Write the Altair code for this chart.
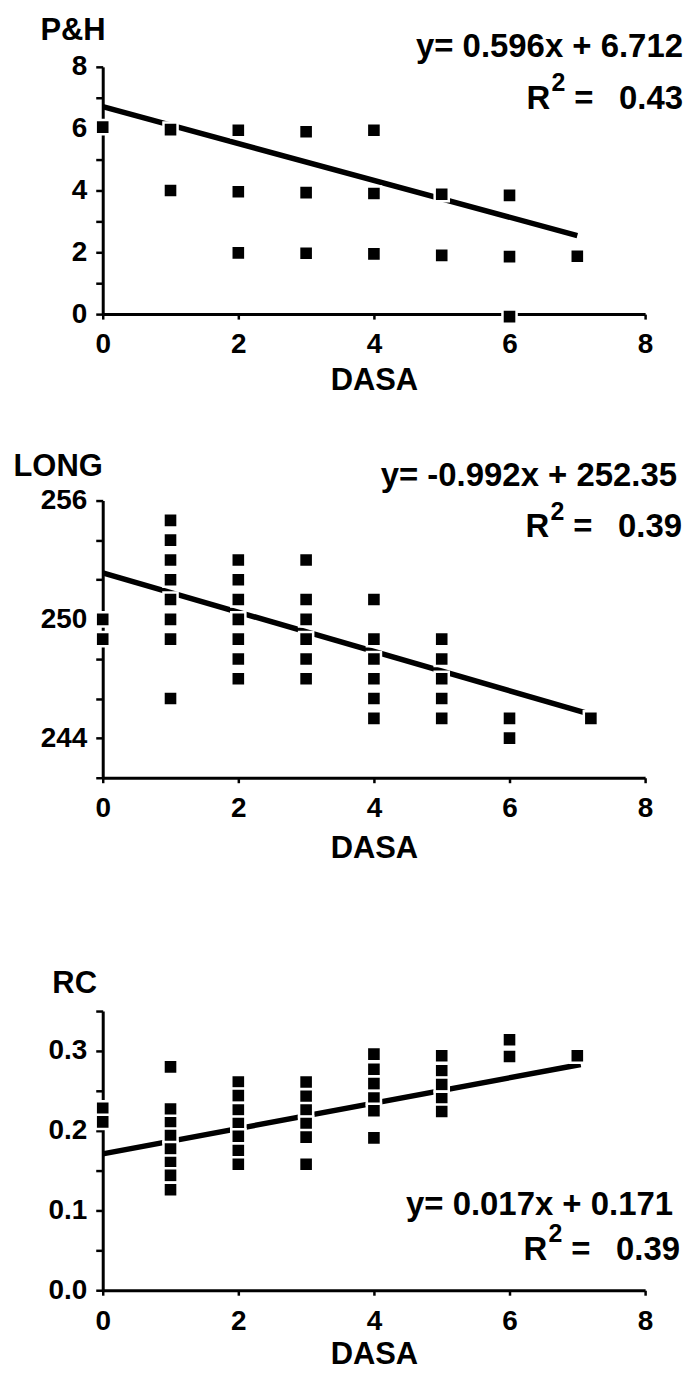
import altair as alt
import pandas as pd

FONT = "Liberation Sans"

# ---------------- data ----------------
x_ticks = [0, 2, 4, 6, 8]

# Panel 1: P&H
ph_x = [0, 1, 2, 3, 4, 1, 2, 3, 4, 5, 6, 2, 3, 4, 5, 6, 7, 6]
ph_y = [6.05, 5.97, 5.95, 5.9, 5.95, 4.0, 3.96, 3.93, 3.9, 3.88, 3.84,
        1.98, 1.97, 1.95, 1.9, 1.86, 1.87, -0.08]
ph_fit_x = [0, 7]
ph_fit_y = [6.71, 2.54]
ph_ticks = [0, 1, 2, 3, 4, 5, 6, 7, 8]
ph_labels = [0, 2, 4, 6, 8]
ph_eq = "y= 0.596x + 6.712"
ph_r2 = "0.43"

# Panel 2: LONG
long_x = [0, 0,
          1, 1, 1, 1, 1, 1, 1, 1,
          2, 2, 2, 2, 2, 2, 2,
          3, 3, 3, 3, 3, 3,
          4, 4, 4, 4, 4, 4,
          5, 5, 5, 5, 5,
          6, 6,
          7.2]
long_y = [250, 249,
          255, 254, 253, 252, 251, 250, 249, 246,
          253, 252, 251, 250, 249, 248, 247,
          253, 251, 250, 249, 248, 247,
          251, 249, 248, 247, 246, 245,
          249, 248, 247, 246, 245,
          245, 244,
          245]
long_fit_x = [0, 7.2]
long_fit_y = [252.35, 245.2]
long_ticks = [242, 244, 246, 248, 250, 252, 254, 256]
long_labels = [244, 250, 256]
long_eq = "y= -0.992x + 252.35"
long_r2 = "0.39"

# Panel 3: RC
rc_x = [0, 0,
        1, 1, 1, 1, 1, 1, 1, 1,
        2, 2, 2, 2, 2, 2, 2,
        3, 3, 3, 3, 3, 3,
        4, 4, 4, 4, 4, 4,
        5, 5, 5, 5, 5,
        6, 6,
        7]
rc_y = [0.228, 0.211,
        0.28, 0.227, 0.21, 0.194, 0.177, 0.16, 0.144, 0.126,
        0.261, 0.244, 0.226, 0.209, 0.193, 0.175, 0.158,
        0.261, 0.243, 0.226, 0.209, 0.192, 0.158,
        0.296, 0.277, 0.259, 0.241, 0.225, 0.191,
        0.294, 0.275, 0.258, 0.24, 0.224,
        0.314, 0.293,
        0.294]
rc_fit_x = [0, 7.05]
rc_fit_y = [0.171, 0.283]
rc_ticks = [0, 0.05, 0.1, 0.15, 0.2, 0.25, 0.3, 0.35]
rc_labels = [0, 0.1, 0.2, 0.3]
rc_eq = "y= 0.017x + 0.171"
rc_r2 = "0.39"


def label_expr(labels):
    parts = ["abs(datum.value - (%s)) < 1e-6" % v for v in labels]
    return "(" + " || ".join(parts) + ") ? datum.label : ''"


def text_layer(s, x, y, size, align):
    df = pd.DataFrame({"t": [s]})
    return alt.Chart(df).mark_text(
        align=align, baseline="alphabetic", font=FONT, fontWeight="bold",
        fontSize=size, color="black"
    ).encode(x=alt.value(x), y=alt.value(y), text="t:N")


def panel(xs, ys, fx, fy, ydom, yticks, ylabels, yfmt, ytitle, ttx, tty,
          eq, r2, eq_pos, r_line, height, xtitle_y):
    pts = pd.DataFrame({"x": xs, "y": ys})
    fit = pd.DataFrame({"x": fx, "y": fy})
    xscale = alt.Scale(domain=[0, 8], nice=False, zero=False)
    yscale = alt.Scale(domain=ydom, nice=False, zero=False)
    xaxis = alt.Axis(values=x_ticks, format="d", tickSize=5, labelPadding=12,
                     title="DASA", titleY=xtitle_y, titleBaseline="alphabetic",
                     titleFontSize=31)
    yaxis = alt.Axis(values=yticks, labelExpr=label_expr(ylabels), format=yfmt,
                     tickSize=7, labelPadding=9, title=ytitle, titleAngle=0,
                     titleAlign="left", titleBaseline="alphabetic",
                     titleX=ttx, titleY=tty, titleFontSize=31)

    line = alt.Chart(fit).mark_line(color="black", strokeWidth=5.5).encode(
        x=alt.X("x:Q", scale=xscale, axis=xaxis),
        y=alt.Y("y:Q", scale=yscale, axis=yaxis),
    )
    dots = alt.Chart(pts).mark_square(
        filled=True, fill="black", stroke="white", strokeWidth=2.5,
        size=200, opacity=1
    ).encode(
        x=alt.X("x:Q", scale=xscale, axis=xaxis),
        y=alt.Y("y:Q", scale=yscale, axis=yaxis),
    )
    rx, ry = r_line
    layers = [
        line, dots,
        text_layer(eq, eq_pos[0], eq_pos[1], 33, "right"),
        text_layer("R", rx, ry, 33, "left"),
        text_layer("2", rx + 25, ry - 18, 25, "left"),
        text_layer("=", rx + 48, ry, 33, "left"),
        text_layer(r2, rx + 157, ry, 33, "right"),
    ]
    return alt.layer(*layers).properties(width=544, height=height)


p1 = panel(ph_x, ph_y, ph_fit_x, ph_fit_y, [0, 8], ph_ticks, ph_labels, "d",
           "P&H", -63, -27,
           ph_eq, ph_r2, (582, -10), (425, 42), 248, 76)
p2 = panel(long_x, long_y, long_fit_x, long_fit_y, [242, 256], long_ticks,
           long_labels, "d", "LONG", -90, -25,
           long_eq, long_r2, (576, -15), (424, 37), 278, 80)
p3 = panel(rc_x, rc_y, rc_fit_x, rc_fit_y, [0, 0.35], rc_ticks, rc_labels, ".1f",
           "RC", -51, -19,
           rc_eq, rc_r2, (572, 205), (422, 250), 280, 73)

top = alt.vconcat(p1, p2, spacing=55)
chart = alt.vconcat(top, p3, spacing=104).properties(
    padding={"left": 5, "top": 5, "right": 0, "bottom": 0}
).configure_view(strokeWidth=0).configure_axis(
    grid=False,
    domainColor="black", domainWidth=3,
    tickColor="black", tickWidth=2.5,
    labelColor="black", labelFont=FONT, labelFontSize=28, labelFontWeight="bold",
    titleColor="black", titleFont=FONT, titleFontWeight="bold",
    labelFlush=False, labelOverlap=False,
)

chart.save("out.html", embed_options={"renderer": "svg", "actions": False})
